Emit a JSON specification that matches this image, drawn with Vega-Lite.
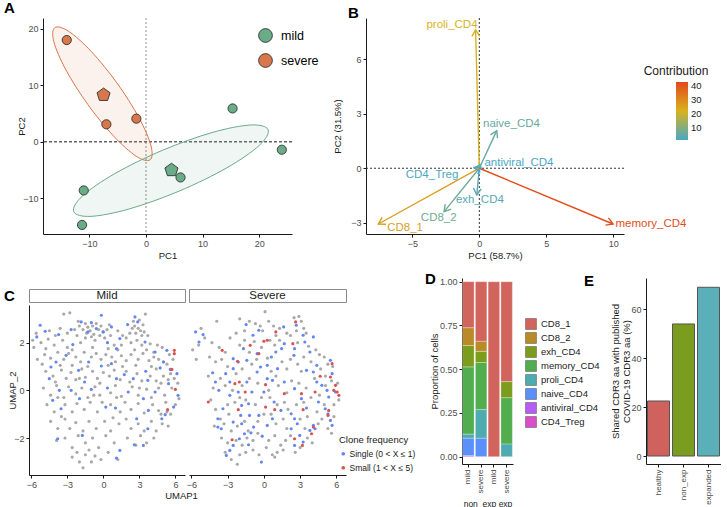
{
"$schema": "https://vega.github.io/schema/vega-lite/v6.json",
"padding": {"left": 3, "top": 0, "right": 0, "bottom": 0},
"config": {
 "font": "Liberation Sans",
 "view": {"stroke": null},
 "axis": {"grid": false, "domainColor": "#1a1a1a", "domainWidth": 1, "tickColor": "#1a1a1a", "tickSize": 3, "labelColor": "#4d4d4d", "labelFontSize": 9, "titleFontSize": 9.5, "titleFontWeight": "normal", "titleColor": "#1a1a1a", "labelPadding": 2},
 "legend": {"titleFontWeight": "normal", "labelColor": "#1a1a1a", "titleColor": "#1a1a1a", "padding": 0},
 "title": {"fontSize": 15, "fontWeight": "bold", "anchor": "start", "frame": "group", "color": "#000000"}
},
"resolve": {"scale": {"color": "independent"}, "legend": {"color": "independent"}},
"columns": 1,
"align": "none",
"spacing": 11,
"concat": [
 {"hconcat": [
   {"hconcat": [
     {"width": 1, "height": 1, "title": {"text": "A", "dx": -25, "offset": -3}, "data": {"values": [{}]}, "mark": {"type": "text", "text": ""}},
     {"width": 249, "height": 216,
      "layer": [
       {"data": {"values": [{}]}, "mark": {"type": "rule", "color": "#8c8c8c", "strokeDash": [2, 2], "strokeWidth": 1}, "encoding": {"x": {"datum": 0, "type": "quantitative"}}},
       {"data": {"values": [{}]}, "mark": {"type": "rule", "color": "#1a1a1a", "strokeDash": [3, 2], "strokeWidth": 1}, "encoding": {"y": {"datum": 0, "type": "quantitative"}}},
       {"data": {"values": [
         {"i":0,"x":0.71,"y":-3.19},{"i":1,"x":0.88,"y":-0.69},{"i":2,"x":-1.24,"y":4.27},{"i":3,"x":-5.10,"y":10.37},{"i":4,"x":-9.66,"y":15.97},{"i":5,"x":-13.68,"y":19.55},{"i":6,"x":-16.11,"y":20.19},{"i":7,"x":-16.28,"y":17.69},{"i":8,"x":-14.16,"y":12.73},{"i":9,"x":-10.30,"y":6.63},{"i":10,"x":-5.74,"y":1.03},{"i":11,"x":-1.72,"y":-2.55}]},
        "mark": {"type": "line", "interpolate": "cardinal-closed", "stroke": "#d9774c", "strokeWidth": 1, "fill": "#d9774c", "fillOpacity": 0.1},
        "encoding": {"x": {"field": "x", "type": "quantitative"}, "y": {"field": "y", "type": "quantitative"}, "order": {"field": "i", "type": "quantitative"}}},
       {"data": {"values": [
         {"i":0,"x":21.57,"y":2.15},{"i":1,"x":18.51,"y":2.98},{"i":2,"x":11.67,"y":1.64},{"i":3,"x":2.88,"y":-1.51},{"i":4,"x":-5.51,"y":-5.62},{"i":5,"x":-11.23,"y":-9.58},{"i":6,"x":-12.77,"y":-12.35},{"i":7,"x":-9.71,"y":-13.18},{"i":8,"x":-2.87,"y":-11.84},{"i":9,"x":5.92,"y":-8.69},{"i":10,"x":14.31,"y":-4.58},{"i":11,"x":20.03,"y":-0.62}]},
        "mark": {"type": "line", "interpolate": "cardinal-closed", "stroke": "#6aab88", "strokeWidth": 1, "fill": "#6aab88", "fillOpacity": 0.1},
        "encoding": {"x": {"field": "x", "type": "quantitative"}, "y": {"field": "y", "type": "quantitative"}, "order": {"field": "i", "type": "quantitative"}}},
       {"data": {"values": [
         {"g":"severe","x":-14,"y":18},{"g":"severe","x":-7,"y":3.1},{"g":"severe","x":-1.7,"y":4.1},
         {"g":"mild","x":15.3,"y":5.9},{"g":"mild","x":24,"y":-1.4},{"g":"mild","x":6.1,"y":-6.3},{"g":"mild","x":-11,"y":-8.6},{"g":"mild","x":-11.3,"y":-14.7}]},
        "mark": {"type": "point", "filled": true, "size": 85, "stroke": "#222222", "strokeWidth": 0.8, "opacity": 1},
        "encoding": {
         "x": {"field": "x", "type": "quantitative", "scale": {"domain": [-18.2, 25.8], "nice": false, "zero": false}, "axis": {"values": [-10, 0, 10, 20], "title": "PC1", "titlePadding": 2}},
         "y": {"field": "y", "type": "quantitative", "scale": {"domain": [-16.3, 21.9], "nice": false, "zero": false}, "axis": {"values": [-10, 0, 10, 20], "title": "PC2", "titleX": -17}},
         "color": {"field": "g", "type": "nominal", "scale": {"domain": ["mild", "severe"], "range": ["#6aab88", "#d9774c"]},
          "legend": {"orient": "none", "legendX": 215, "legendY": 10, "title": null, "symbolType": "circle", "symbolSize": 190, "symbolStrokeColor": "#222222", "symbolStrokeWidth": 0.8, "labelFontSize": 12.5, "labelColor": "#000000", "rowPadding": 8, "labelOffset": 8}}}},
       {"data": {"values": [{"g":"severe","x":-7.5,"y":8.3},{"g":"mild","x":4.5,"y":-5}]},
        "mark": {"type": "point", "filled": true, "size": 190, "stroke": "#222222", "strokeWidth": 0.8, "opacity": 1, "shape": "M0,-1L0.951,-0.309L0.588,0.809L-0.588,0.809L-0.951,-0.309Z"},
        "encoding": {"x": {"field": "x", "type": "quantitative"}, "y": {"field": "y", "type": "quantitative"}, "color": {"field": "g", "type": "nominal"}}}
      ]}
   ], "spacing": -14, "resolve": {"scale": {"color": "independent"}, "legend": {"color": "independent"}}},
   {"width": 258, "height": 216,
    "title": {"text": "B", "dx": -18, "offset": -3},
    "data": {"values": [
      {"v":"proli_CD4","x":-0.28,"y":7.62,"c":22,"lx":-2.04,"ly":7.89},
      {"v":"naive_CD4","x":1.3,"y":2.07,"c":5,"lx":2.4,"ly":2.44},
      {"v":"antiviral_CD4","x":0.12,"y":0.06,"c":1,"lx":2.96,"ly":0.31},
      {"v":"CD4_Treg","x":-0.38,"y":0.02,"c":1.5,"lx":-3.53,"ly":-0.37},
      {"v":"exh_CD4","x":-0.19,"y":-1.47,"c":3,"lx":0.04,"ly":-1.74},
      {"v":"CD8_2","x":-2.63,"y":-2.39,"c":7,"lx":-3.03,"ly":-2.75},
      {"v":"CD8_1","x":-7.54,"y":-3.07,"c":26,"lx":-5.54,"ly":-3.3},
      {"v":"memory_CD4","x":9.98,"y":-3.07,"c":42,"lx":12.81,"ly":-3.07}]},
    "resolve": {"legend": {"color": "independent"}},
    "layer": [
     {"data": {"values": [{}]}, "mark": {"type": "rule", "color": "#333333", "strokeDash": [2, 2], "strokeWidth": 1}, "encoding": {"x": {"datum": 0, "type": "quantitative"}}},
     {"data": {"values": [{}]}, "mark": {"type": "rule", "color": "#333333", "strokeDash": [2, 2], "strokeWidth": 1}, "encoding": {"y": {"datum": 0, "type": "quantitative"}}},
     {"mark": {"type": "rule", "strokeWidth": 1.4},
      "encoding": {
       "x": {"field": "x", "type": "quantitative", "scale": {"domain": [-8.46, 10.8], "nice": false, "zero": false}, "axis": {"values": [-5, 0, 5, 10], "title": "PC1 (58.7%)", "titlePadding": 2}},
       "y": {"field": "y", "type": "quantitative", "scale": {"domain": [-3.62, 8.27], "nice": false, "zero": false}, "axis": {"values": [-3, 0, 3, 6], "title": "PC2 (31.5%)", "titleX": -24}},
       "x2": {"datum": 0}, "y2": {"datum": 0},
       "color": {"field": "c", "type": "quantitative", "scale": {"domain": [1, 22, 43], "range": ["#4ba7c4", "#d8b21e", "#e2491c"], "interpolate": "rgb"}, "legend": null}}},
     {"transform": [{"calculate": "atan2(datum.x*13.4, datum.y*18.17)*180/PI", "as": "ang"}],
      "mark": {"type": "point", "filled": false, "strokeWidth": 1.4, "size": 170, "shape": "M-0.6,1L0,0L0.6,1", "opacity": 1},
      "encoding": {"x": {"field": "x", "type": "quantitative"}, "y": {"field": "y", "type": "quantitative"}, "angle": {"field": "ang", "type": "quantitative", "scale": null}, "color": {"field": "c", "type": "quantitative", "legend": null}}},
     {"mark": {"type": "text", "fontSize": 11.5, "align": "center", "baseline": "middle"},
      "encoding": {"x": {"field": "lx", "type": "quantitative"}, "y": {"field": "ly", "type": "quantitative"}, "text": {"field": "v", "type": "nominal"},
       "color": {"field": "c", "type": "quantitative",
        "legend": {"type": "gradient", "direction": "vertical", "orient": "none", "legendX": 278, "legendY": 48, "title": "Contribution", "titleFontSize": 12, "titleAnchor": "start", "titleAlign": "center", "values": [10, 20, 30, 40], "gradientLength": 58, "gradientThickness": 12, "gradientStrokeWidth": 0, "labelFontSize": 9.5, "titlePadding": 4, "labelOffset": 3}}}}
    ]}
 ], "spacing": 13, "resolve": {"scale": {"color": "independent"}, "legend": {"color": "independent"}}},
 {"hconcat": [
   {"hconcat": [
     {"vconcat": [
       {"width": 1, "height": 9, "data": {"values": [{}]}, "mark": {"type": "text", "text": ""}},
       {"hconcat": [
         {"width": 156, "height": 13, "title": {"text": "C", "dx": -25, "offset": -15}, "view": {"stroke": "#8a8a8a", "strokeWidth": 1, "fill": "#ffffff"}, "data": {"values": [{"s": "Mild"}]}, "mark": {"type": "text", "fontSize": 11.5, "color": "#1a1a1a", "baseline": "middle"}, "encoding": {"text": {"field": "s", "type": "nominal"}}},
         {"width": 157, "height": 13, "view": {"stroke": "#8a8a8a", "strokeWidth": 1, "fill": "#ffffff"}, "data": {"values": [{"s": "Severe"}]}, "mark": {"type": "text", "fontSize": 11.5, "color": "#1a1a1a", "baseline": "middle"}, "encoding": {"text": {"field": "s", "type": "nominal"}}}
       ], "spacing": 4, "bounds": "flush"},
       {"data": {"format": {"type": "csv", "parse": {"x": "number", "y": "number"}}, "values": "p,x,y,c\nm,-3.3,3.2,N\nm,-2.8,3.25,N\nm,-2.1,2.9,N\nm,-1.5,2.8,N\nm,-1.3,2.65,N\nm,-0.9,2.7,N\nm,-0.6,2.8,N\nm,-0.4,2.55,N\nm,-1.1,2.5,N\nm,-0.2,2.7,N\nm,0.3,2.55,N\nm,0.5,2.75,N\nm,2.5,2.9,N\nm,2.9,2.6,N\nm,3.1,2.5,N\nm,3.3,2.75,N\nm,3.5,3.2,N\nm,3.4,2.45,N\nm,2.7,2.4,N\nm,3.7,2.3,N\nm,-5.6,2.4,N\nm,-5.9,2.1,N\nm,-4.5,2.5,N\nm,-3.6,2.6,N\nm,-2.4,2.55,N\nm,-1.7,2.55,N\nm,1.2,2.5,N\nm,2.2,2.4,N\nm,-5.8,1.8,N\nm,-5.2,2.0,N\nm,-4.6,2.15,N\nm,-4.1,1.9,N\nm,-3.4,2.1,N\nm,-3.0,1.8,N\nm,-2.2,2.3,N\nm,-1.9,2.0,N\nm,-1.5,2.2,N\nm,-1.0,2.25,N\nm,-0.7,2.1,N\nm,-0.3,2.3,N\nm,0.1,2.2,N\nm,0.6,2.3,N\nm,0.9,1.9,N\nm,1.5,1.9,N\nm,1.9,2.2,N\nm,2.3,2.0,N\nm,2.8,2.1,N\nm,3.2,1.9,N\nm,3.9,1.95,N\nm,4.5,1.9,N\nm,4.9,1.8,N\nm,5.5,1.5,N\nm,-4.8,1.75,N\nm,-2.6,1.7,N\nm,-0.9,1.8,N\nm,0.4,1.75,N\nm,1.2,1.7,N\nm,2.6,1.7,N\nm,3.6,1.7,N\nm,-5.5,1.3,N\nm,-4.9,1.5,N\nm,-4.4,1.35,N\nm,-3.8,1.6,N\nm,-3.3,1.3,N\nm,-2.9,1.55,N\nm,-2.3,1.4,N\nm,-1.9,1.2,N\nm,-1.6,1.6,N\nm,-1.0,1.4,N\nm,-0.6,1.55,N\nm,-0.2,1.3,N\nm,0.2,1.5,N\nm,0.7,1.4,N\nm,1.0,1.2,N\nm,1.5,1.45,N\nm,1.9,1.25,N\nm,2.3,1.5,N\nm,2.9,1.3,N\nm,3.3,1.55,N\nm,3.8,1.25,N\nm,4.2,1.4,N\nm,4.6,1.3,N\nm,5.3,1.1,N\nm,5.8,1.3,N\nm,-5.1,1.1,N\nm,-3.6,1.05,N\nm,-2.6,1.05,N\nm,-1.3,1.0,N\nm,0.4,1.05,N\nm,1.6,1.0,N\nm,2.7,1.05,N\nm,4.0,1.0,N\nm,-4.8,0.8,N\nm,-4.2,0.6,N\nm,-3.5,0.85,N\nm,-3.1,0.5,N\nm,-2.7,0.75,N\nm,-2.3,0.45,N\nm,-1.8,0.9,N\nm,-1.5,0.55,N\nm,-0.9,0.8,N\nm,-0.5,0.5,N\nm,0.0,0.75,N\nm,0.5,0.6,N\nm,0.9,0.85,N\nm,1.4,0.45,N\nm,1.9,0.8,N\nm,2.2,0.35,N\nm,2.8,0.7,N\nm,3.2,0.4,N\nm,3.9,0.6,N\nm,4.4,0.4,N\nm,5.0,0.6,N\nm,5.4,0.45,N\nm,5.9,0.5,N\nm,6.2,0.3,N\nm,-4.0,0.35,N\nm,-0.3,0.3,N\nm,4.8,0.3,N\nm,-5.0,0.1,N\nm,-4.4,-0.2,N\nm,-3.9,0.2,N\nm,-3.3,-0.3,N\nm,-2.9,0.15,N\nm,-2.3,-0.15,N\nm,-1.8,0.1,N\nm,-1.3,-0.3,N\nm,-0.7,0.15,N\nm,-0.3,-0.2,N\nm,0.6,-0.1,N\nm,1.0,0.2,N\nm,1.5,-0.25,N\nm,2.4,0.15,N\nm,2.9,-0.2,N\nm,3.6,0.05,N\nm,4.0,-0.3,N\nm,4.6,0.1,N\nm,5.1,-0.2,N\nm,5.7,0.1,N\nm,6.3,-0.35,N\nm,-4.7,-0.6,N\nm,-4.1,-0.9,N\nm,-3.2,-0.6,N\nm,-2.6,-0.9,N\nm,-2.2,-0.55,N\nm,-1.6,-0.8,N\nm,-1.1,-0.5,N\nm,-0.5,-0.9,N\nm,-0.1,-0.5,N\nm,0.6,-0.6,N\nm,1.4,-0.9,N\nm,1.8,-0.5,N\nm,2.3,-0.8,N\nm,2.9,-0.55,N\nm,3.4,-0.95,N\nm,4.1,-0.6,N\nm,4.6,-0.85,N\nm,5.2,-0.5,N\nm,5.6,-1.0,N\nm,6.0,-0.6,N\nm,-4.4,-1.3,N\nm,-3.8,-1.6,N\nm,-3.2,-1.2,N\nm,-2.8,-1.6,N\nm,-2.3,-1.35,N\nm,-1.7,-1.7,N\nm,-1.2,-1.3,N\nm,-0.6,-1.6,N\nm,0.1,-1.3,N\nm,0.6,-1.7,N\nm,1.3,-1.4,N\nm,1.9,-1.2,N\nm,2.3,-1.6,N\nm,2.9,-1.4,N\nm,3.4,-1.7,N\nm,4.0,-1.3,N\nm,4.4,-1.7,N\nm,4.9,-1.4,N\nm,5.4,-1.5,N\nm,-3.5,-1.1,N\nm,0.8,-1.15,N\nm,-3.9,-2.1,N\nm,-3.2,-2.0,N\nm,-2.6,-2.4,N\nm,-2.1,-1.9,N\nm,-1.5,-2.2,N\nm,-0.9,-2.0,N\nm,-0.4,-2.4,N\nm,0.2,-1.9,N\nm,0.9,-2.2,N\nm,2.0,-2.0,N\nm,2.7,-2.3,N\nm,3.1,-1.9,N\nm,3.6,-2.2,N\nm,4.2,-2.0,N\nm,-1.2,-2.5,N\nm,-2.6,-2.8,N\nm,-2.0,-3.0,N\nm,-1.5,-2.7,N\nm,-1.0,-3.0,N\nm,-0.7,-2.75,N\nm,-1.7,-3.25,N\nm,-0.2,-2.9,N\nm,0.4,-2.6,N\nm,1.2,-2.9,N\nm,-2.2,-2.6,N\nm,-1.4,2.4,N\nm,-0.8,2.35,N\nm,0.0,2.45,N\nm,-2.0,2.7,N\nm,2.6,2.7,N\nm,3.0,2.95,N\nm,3.2,2.3,N\nm,2.4,2.6,N\nm,-3.0,2.4,N\nm,-4.0,2.3,N\nm,1.6,2.3,N\nm,4.2,1.6,N\nm,5.0,1.2,N\nm,5.6,0.7,N\nm,4.4,0.9,N\nm,5.3,-0.9,N\nm,4.8,-1.0,N\nm,3.0,0.1,N\nm,1.1,-0.3,N\nm,-0.8,-0.2,N\nm,-2.0,0.5,N\nm,-3.8,-0.3,N\nm,-5.27,2.73,S\nm,-4.85,2.48,S\nm,-5.55,2.24,S\nm,-3.73,2.34,S\nm,-2.69,2.55,S\nm,-2.55,1.92,S\nm,-1.85,2.87,S\nm,-1.0,2.84,S\nm,-1.29,2.45,S\nm,-0.59,2.59,S\nm,-0.17,3.15,S\nm,-0.03,2.45,S\nm,0.34,2.0,S\nm,0.67,2.66,S\nm,1.37,2.17,S\nm,2.02,2.76,S\nm,2.63,3.08,S\nm,2.86,2.87,S\nm,3.47,2.03,S\nm,4.31,1.61,S\nm,5.29,1.68,S\nm,5.01,1.19,S\nm,-4.37,0.98,S\nm,-3.95,1.19,S\nm,-3.11,1.47,S\nm,-2.07,0.84,S\nm,-1.23,1.19,S\nm,-0.17,1.02,S\nm,0.67,1.12,S\nm,1.09,1.75,S\nm,1.74,0.66,S\nm,2.49,0.49,S\nm,3.53,0.8,S\nm,3.7,0.42,S\nm,4.73,0.94,S\nm,5.57,0.88,S\nm,6.13,0.7,S\nm,-4.51,0.49,S\nm,-3.67,0.0,S\nm,-2.69,0.0,S\nm,-1.57,0.35,S\nm,-1.01,0.04,S\nm,0.34,0.1,S\nm,1.09,0.49,S\nm,2.07,-0.07,S\nm,3.33,-0.35,S\nm,4.31,-0.07,S\nm,5.43,0.28,S\nm,6.22,-0.21,S\nm,5.85,-0.7,S\nm,-4.23,-0.42,S\nm,-3.53,-0.77,S\nm,-1.99,-0.35,S\nm,0.2,-0.7,S\nm,1.01,-0.74,S\nm,2.77,-1.19,S\nm,3.75,-0.84,S\nm,5.15,-1.02,S\nm,3.7,-1.61,S\nm,-3.81,-2.03,S\nm,-1.76,-1.89,S\nm,2.58,-2.28,S\nm,3.33,-2.31,S\nm,1.37,-2.52,S\nm,1.09,-2.84,S\nm,4.87,-1.19,S\nm,5.91,1.68,M\nm,5.91,1.54,M\nm,5.71,0.88,M\nm,6.0,0.04,M\nm,5.35,-0.81,M\ns,-2.0,3.0,N\ns,-1.2,2.9,N\ns,-0.7,2.8,N\ns,-0.3,2.7,N\ns,0.1,3.3,N\ns,0.4,2.9,N\ns,0.8,2.7,N\ns,1.3,2.6,N\ns,2.5,3.05,N\ns,2.9,3.1,N\ns,3.1,2.9,N\ns,3.3,2.6,N\ns,2.7,2.5,N\ns,2.2,2.3,N\ns,-3.9,2.9,N\ns,-1.6,2.5,N\ns,-0.1,2.5,N\ns,1.0,2.3,N\ns,0.5,2.1,N\ns,-0.8,2.05,N\ns,-5.9,1.7,N\ns,-5.4,1.9,N\ns,-5.6,1.3,N\ns,-5.2,2.6,N\ns,-4.9,2.2,N\ns,-4.3,2.0,N\ns,-3.7,1.8,N\ns,-3.2,1.6,N\ns,-2.8,2.2,N\ns,-2.3,2.4,N\ns,-2.0,1.9,N\ns,-1.6,2.1,N\ns,-1.2,1.6,N\ns,-0.2,1.8,N\ns,0.9,1.9,N\ns,1.3,2.1,N\ns,1.9,2.4,N\ns,2.8,2.0,N\ns,3.5,2.4,N\ns,3.7,1.85,N\ns,4.3,1.7,N\ns,4.6,1.5,N\ns,5.0,1.4,N\ns,5.3,1.1,N\ns,5.7,1.0,N\ns,-4.5,1.4,N\ns,-4.0,1.2,N\ns,-3.5,1.3,N\ns,-3.0,1.0,N\ns,-2.3,0.7,N\ns,-1.8,0.9,N\ns,-1.0,1.1,N\ns,-0.6,1.3,N\ns,0.3,1.35,N\ns,0.6,0.8,N\ns,1.0,0.6,N\ns,1.5,1.2,N\ns,1.9,0.9,N\ns,2.2,1.3,N\ns,2.8,1.1,N\ns,3.1,0.8,N\ns,3.3,1.4,N\ns,3.9,1.2,N\ns,4.2,0.5,N\ns,4.7,0.9,N\ns,5.1,0.6,N\ns,5.6,0.4,N\ns,6.1,0.3,N\ns,-4.6,0.6,N\ns,-4.2,0.1,N\ns,-3.6,0.5,N\ns,-3.2,0.2,N\ns,-2.6,0.0,N\ns,-1.8,0.2,N\ns,-1.2,0.5,N\ns,-0.5,0.3,N\ns,0.4,0.0,N\ns,1.2,0.2,N\ns,1.9,-0.1,N\ns,2.3,0.4,N\ns,2.9,0.3,N\ns,3.5,0.1,N\ns,3.9,-0.3,N\ns,4.6,-0.2,N\ns,5.1,0.2,N\ns,6.2,-0.4,N\ns,5.8,-0.6,N\ns,-4.4,-0.4,N\ns,-4.0,-0.8,N\ns,-3.6,-1.2,N\ns,-3.0,-0.6,N\ns,-2.4,-0.5,N\ns,-2.0,-0.3,N\ns,-1.5,-0.4,N\ns,-0.7,-0.6,N\ns,-0.2,-0.3,N\ns,0.5,-0.3,N\ns,1.1,-0.6,N\ns,1.7,-0.5,N\ns,2.0,-0.8,N\ns,2.7,-0.6,N\ns,3.3,-0.5,N\ns,3.6,-1.1,N\ns,4.4,-0.9,N\ns,4.8,-1.2,N\ns,5.0,-0.6,N\ns,5.8,-1.1,N\ns,-4.1,-1.5,N\ns,-3.3,-1.4,N\ns,-2.9,-1.0,N\ns,-2.7,-1.7,N\ns,-2.2,-1.5,N\ns,-1.6,-1.3,N\ns,-1.3,-1.7,N\ns,-0.5,-1.3,N\ns,0.0,-1.0,N\ns,0.6,-1.0,N\ns,1.0,-1.4,N\ns,1.6,-1.2,N\ns,1.9,-1.6,N\ns,3.0,-1.2,N\ns,3.4,-1.6,N\ns,4.5,-1.4,N\ns,5.3,-1.6,N\ns,5.6,-1.8,N\ns,-3.5,-2.0,N\ns,-3.0,-2.2,N\ns,-2.3,-2.1,N\ns,-1.8,-2.3,N\ns,-1.4,-2.0,N\ns,-0.9,-2.1,N\ns,-0.5,-1.8,N\ns,0.4,-2.1,N\ns,0.9,-1.9,N\ns,1.4,-2.3,N\ns,1.8,-2.1,N\ns,2.2,-1.9,N\ns,3.6,-2.0,N\ns,4.0,-2.2,N\ns,-3.2,-2.6,N\ns,-2.7,-2.9,N\ns,-2.0,-2.7,N\ns,-1.5,-2.6,N\ns,-0.9,-2.5,N\ns,-0.4,-2.7,N\ns,0.2,-2.4,N\ns,0.7,-2.7,N\ns,1.1,-2.6,N\ns,1.6,-2.5,N\ns,2.6,-2.6,N\ns,3.0,-2.4,N\ns,-2.2,-3.1,N\ns,0.9,-2.8,N\ns,-5.65,2.45,S\ns,-5.03,2.34,S\ns,-5.37,2.03,S\ns,-4.01,0.35,S\ns,-4.24,0.74,S\ns,-3.16,0.7,S\ns,-3.73,0.0,S\ns,-2.82,-0.21,S\ns,-3.39,-0.77,S\ns,-3.81,-1.54,S\ns,-3.11,-2.73,S\ns,-2.82,-2.52,S\ns,-2.54,-2.31,S\ns,-2.03,-2.03,S\ns,-1.27,-2.28,S\ns,-0.2,-3.01,S\ns,-1.61,-1.82,S\ns,-1.07,-1.78,S\ns,-0.85,-1.54,S\ns,-0.14,-1.92,S\ns,-1.92,-1.05,S\ns,-1.84,-1.4,S\ns,-1.19,-1.05,S\ns,-0.42,-1.05,S\ns,0.28,-1.47,S\ns,0.71,-1.19,S\ns,0.85,-0.49,S\ns,1.41,-0.84,S\ns,2.26,-0.98,S\ns,2.54,-1.19,S\ns,2.77,-1.4,S\ns,2.26,-1.61,S\ns,2.97,-1.89,S\ns,3.25,-2.17,S\ns,2.54,-2.31,S\ns,3.81,-1.68,S\ns,4.24,-1.61,S\ns,4.1,-1.47,S\ns,3.53,-0.74,S\ns,4.52,-0.49,S\ns,5.08,-0.77,S\ns,5.31,-0.98,S\ns,5.51,-1.26,S\ns,5.65,-1.47,S\ns,5.37,-0.28,S\ns,5.23,0.0,S\ns,5.93,-0.07,S\ns,4.8,0.21,S\ns,4.38,0.35,S\ns,4.1,0.77,S\ns,3.53,0.84,S\ns,4.38,1.05,S\ns,5.65,0.7,S\ns,5.51,1.26,S\ns,3.81,1.61,S\ns,3.39,2.03,S\ns,3.25,2.31,S\ns,2.54,1.75,S\ns,2.49,1.47,S\ns,2.68,2.73,S\ns,4.1,2.24,S\ns,1.69,1.96,S\ns,1.47,1.75,S\ns,0.99,1.61,S\ns,0.62,1.4,S\ns,1.64,2.66,S\ns,-1.47,2.76,S\ns,-0.9,2.31,S\ns,-0.42,2.52,S\ns,-1.69,1.75,S\ns,-1.41,1.26,S\ns,-0.56,1.54,S\ns,-0.28,0.98,S\ns,-0.56,0.77,S\ns,0.28,0.49,S\ns,0.28,1.05,S\ns,-2.54,1.33,S\ns,-2.12,1.19,S\ns,-2.54,0.91,S\ns,-2.82,0.35,S\ns,-2.12,-0.07,S\ns,-1.41,0.35,S\ns,-0.99,-0.07,S\ns,0.0,-0.07,S\ns,0.71,0.42,S\ns,1.13,0.91,S\ns,1.69,0.35,S\ns,2.54,0.07,S\ns,3.11,-0.35,S\ns,-1.84,-0.63,S\ns,-1.27,-0.56,S\ns,-3.81,-1.19,S\ns,-3.53,-1.61,S\ns,-2.54,-1.33,S\ns,-3.45,1.68,M\ns,-2.18,1.22,M\ns,-2.4,0.28,M\ns,-2.03,0.35,M\ns,-1.55,-0.07,M\ns,-2.12,-0.81,M\ns,-2.63,-2.07,M\ns,-4.6,-0.49,M\ns,-1.13,1.89,M\ns,-0.42,1.54,M\ns,0.0,2.06,M\ns,0.28,2.1,M\ns,0.99,2.45,M\ns,0.14,0.24,M\ns,0.14,-0.7,M\ns,0.9,-0.81,M\ns,2.63,2.87,M\ns,2.4,1.96,M\ns,3.11,-0.14,M\ns,3.25,-0.81,M\ns,4.1,-1.54,M\ns,3.95,-1.82,M\ns,2.54,-2.03,M\ns,3.19,-2.31,M\ns,4.66,0.59,M\ns,5.65,1.12,M\ns,5.51,0.56,M\ns,5.79,0.0,M\ns,6.07,-0.07,M\ns,6.21,-0.21,M\ns,5.93,0.21,M\ns,5.37,-0.84,M\ns,5.31,-1.05,M\ns,4.24,-0.07,M\ns,1.69,-0.14,M"},
        "hconcat": [
         {"width": 156, "height": 170,
          "transform": [{"filter": "datum.p == 'm'"}],
          "mark": {"type": "circle", "size": 10, "opacity": 1},
          "encoding": {
           "x": {"field": "x", "type": "quantitative", "scale": {"domain": [-6.2, 6.8], "nice": false, "zero": false}, "axis": {"values": [-6, -3, 0, 3, 6], "title": "UMAP1", "titleX": 152, "titlePadding": 1}},
           "y": {"field": "y", "type": "quantitative", "scale": {"domain": [-3.55, 3.58], "nice": false, "zero": false}, "axis": {"values": [-2, 0, 2], "title": "UMAP_2", "titleX": -12}},
           "color": {"field": "c", "type": "nominal", "scale": {"domain": ["S", "M", "N"], "range": ["#6485f5", "#d6534e", "#a8a8a8"]}, "legend": null}}},
         {"width": 157, "height": 170,
          "transform": [{"filter": "datum.p == 's'"}],
          "mark": {"type": "circle", "size": 10, "opacity": 1},
          "encoding": {
           "x": {"field": "x", "type": "quantitative", "scale": {"domain": [-6.2, 6.8], "nice": false, "zero": false}, "axis": {"values": [-6, -3, 0, 3, 6], "title": null}},
           "y": {"field": "y", "type": "quantitative", "scale": {"domain": [-3.55, 3.58], "nice": false, "zero": false}, "axis": null},
           "color": {"field": "c", "type": "nominal", "scale": {"domain": ["S", "M", "N"], "range": ["#6485f5", "#d6534e", "#a8a8a8"]},
            "legend": {"orient": "none", "legendX": 150, "legendY": 130, "title": "Clone frequency", "titleFontSize": 9.5, "labelFontSize": 8.5, "symbolSize": 14, "symbolType": "circle", "values": ["S", "M"], "rowPadding": 5, "labelOffset": 2, "labelExpr": "datum.label == 'S' ? 'Single (0 < X \u2264  1)' : 'Small (1 < X \u2264  5)'"}}}}
        ], "spacing": 4, "bounds": "flush", "resolve": {"scale": {"color": "independent"}, "legend": {"color": "independent"}}}
     ], "spacing": 0, "resolve": {"scale": {"color": "independent"}, "legend": {"color": "independent"}}},
     {"width": 51, "height": 186,
      "title": {"text": "D", "dx": -37, "offset": -9},
      "data": {"values": [
        {"g":"non_exp/mild","t":"CD4_Treg","k":1,"v":0.006},{"g":"non_exp/mild","t":"naive_CD4","k":3,"v":0.100},{"g":"non_exp/mild","t":"proli_CD4","k":4,"v":0.023},{"g":"non_exp/mild","t":"memory_CD4","k":5,"v":0.384},{"g":"non_exp/mild","t":"exh_CD4","k":6,"v":0.122},{"g":"non_exp/mild","t":"CD8_2","k":7,"v":0.102},{"g":"non_exp/mild","t":"CD8_1","k":8,"v":0.263},
        {"g":"non_exp/severe","t":"naive_CD4","k":3,"v":0.106},{"g":"non_exp/severe","t":"proli_CD4","k":4,"v":0.163},{"g":"non_exp/severe","t":"memory_CD4","k":5,"v":0.269},{"g":"non_exp/severe","t":"exh_CD4","k":6,"v":0.064},{"g":"non_exp/severe","t":"CD8_2","k":7,"v":0.058},{"g":"non_exp/severe","t":"CD8_1","k":8,"v":0.340},
        {"g":"exp/mild","t":"CD8_1","k":8,"v":1.0},
        {"g":"exp/severe","t":"proli_CD4","k":4,"v":0.073},{"g":"exp/severe","t":"memory_CD4","k":5,"v":0.264},{"g":"exp/severe","t":"exh_CD4","k":6,"v":0.092},{"g":"exp/severe","t":"CD8_1","k":8,"v":0.571}]},
      "mark": {"type": "bar", "stroke": "#ffffff", "strokeWidth": 0.3},
      "encoding": {
       "x": {"field": "g", "type": "nominal", "sort": ["non_exp/mild", "non_exp/severe", "exp/mild", "exp/severe"], "scale": {"paddingInner": 0.1, "paddingOuter": 0.05},
        "axis": {"labelExpr": "split(datum.label, '/')[1]", "labelAngle": -90, "title": "non_exp  exp", "titleFontSize": 8.5, "titlePadding": 6, "labelFontSize": 8}},
       "y": {"field": "v", "type": "quantitative", "stack": "zero", "scale": {"domain": [-0.042, 1.021], "nice": false, "zero": false}, "axis": {"values": [0, 0.25, 0.5, 0.75, 1], "format": ".2f", "title": "Proportion of cells", "titleX": -23}},
       "order": {"field": "k", "type": "quantitative"},
       "color": {"field": "t", "type": "nominal",
        "scale": {"domain": ["CD8_1", "CD8_2", "exh_CD4", "memory_CD4", "proli_CD4", "naive_CD4", "antiviral_CD4", "CD4_Treg"], "range": ["#d1655d", "#b88a28", "#7c9d1b", "#52ad4f", "#4eabb0", "#5b8ff9", "#b65cf3", "#d84fc9"]},
        "legend": {"orient": "none", "legendX": 63, "legendY": 40, "title": null, "symbolType": "square", "symbolSize": 120, "symbolStrokeColor": "#333333", "symbolStrokeWidth": 0.4, "labelFontSize": 9.5, "rowPadding": 0, "labelLimit": 100, "labelOffset": 4}}}}
   ], "spacing": 7, "resolve": {"scale": {"color": "independent"}, "legend": {"color": "independent"}}},
   {"width": 75, "height": 186,
    "title": {"text": "E", "dx": -62, "offset": -11},
    "data": {"values": [{"k": "healthy", "v": 22.5}, {"k": "non_exp", "v": 54.0}, {"k": "expanded", "v": 69.0}]},
    "mark": {"type": "bar", "stroke": "#555555", "strokeWidth": 1},
    "encoding": {
     "x": {"field": "k", "type": "nominal", "sort": ["healthy", "non_exp", "expanded"], "scale": {"paddingInner": 0.12, "paddingOuter": 0.06}, "axis": {"labelAngle": -90, "title": null, "labelFontSize": 8}},
     "y": {"field": "v", "type": "quantitative", "scale": {"domain": [-3.27, 72.8], "nice": false, "zero": false}, "axis": {"values": [0, 20, 40, 60], "title": ["Shared CDR3 aa with published", "COVID-19 CDR3 aa (%)"], "titleLineHeight": 11, "titleX": -26}},
     "color": {"field": "k", "type": "nominal", "scale": {"domain": ["healthy", "non_exp", "expanded"], "range": ["#d0625e", "#7a9c1f", "#5aafb8"]}, "legend": null}}}
 ], "spacing": -16, "resolve": {"scale": {"color": "independent"}, "legend": {"color": "independent"}}}
]
}
